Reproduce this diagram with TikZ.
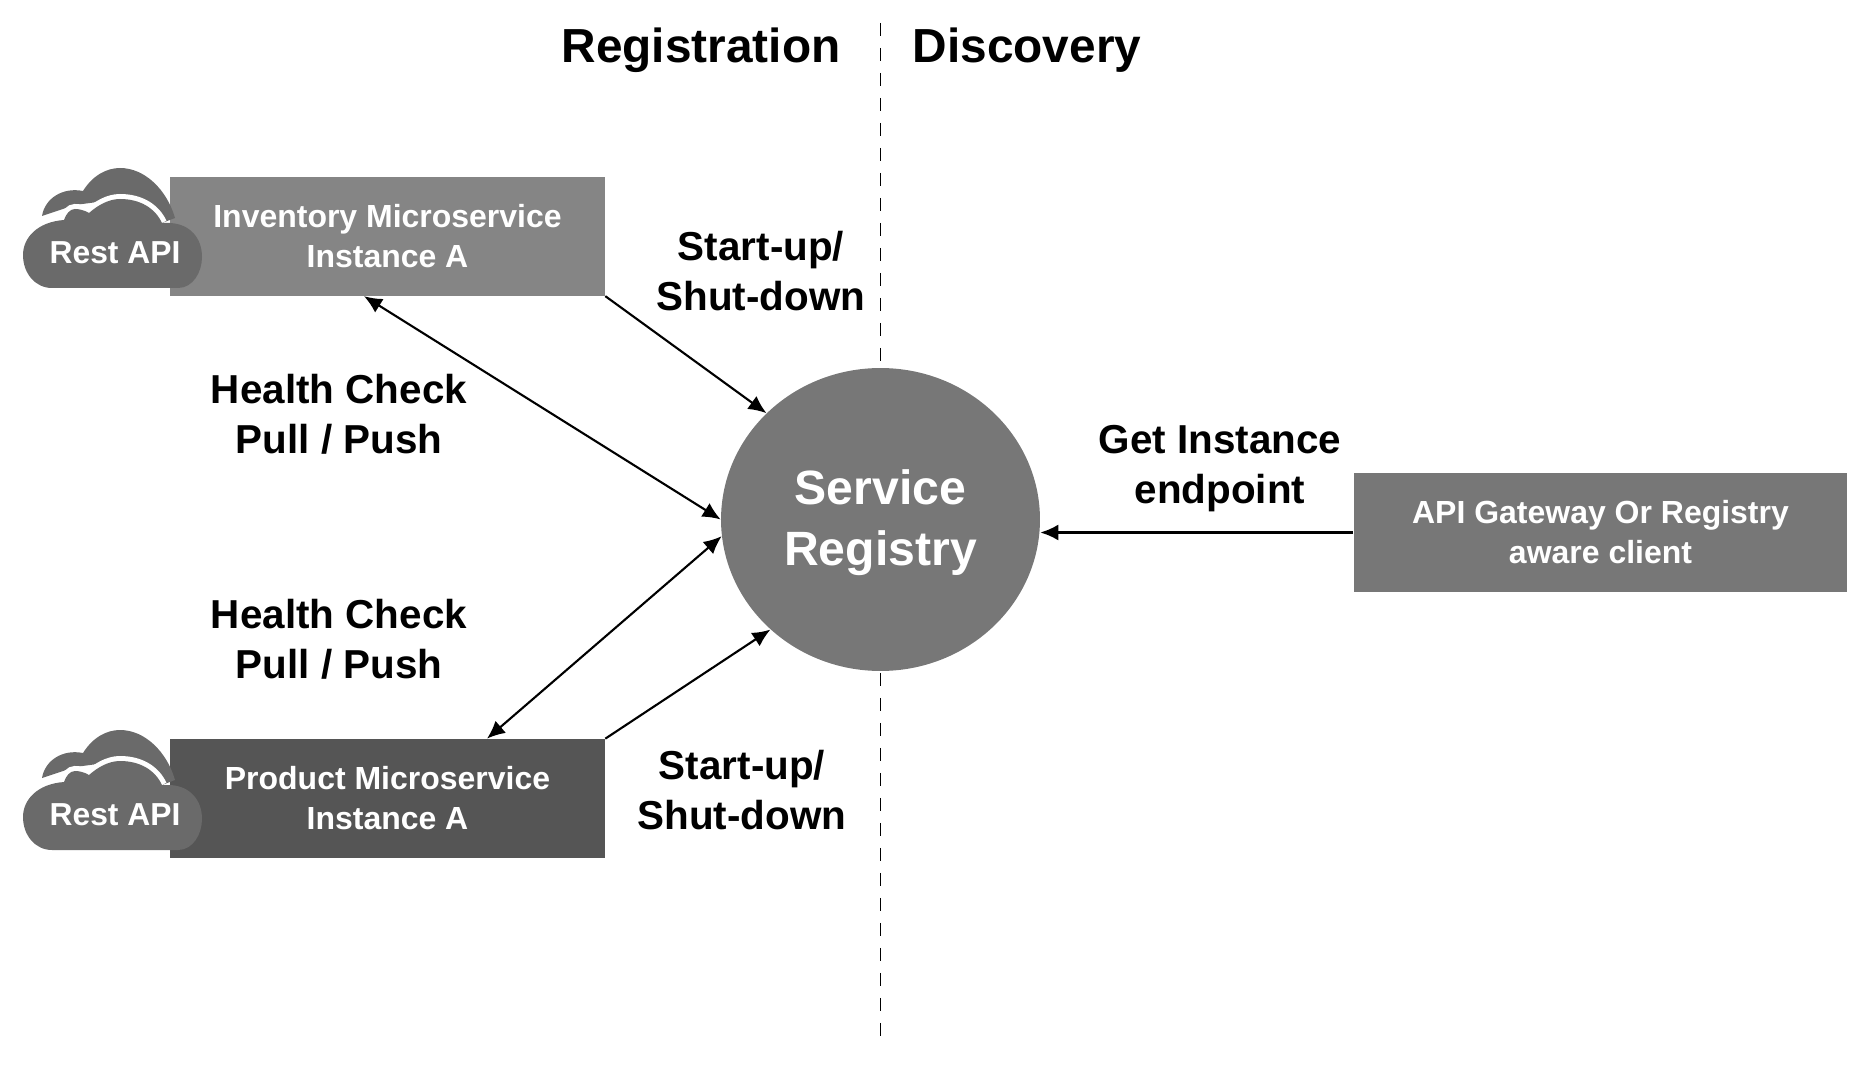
\documentclass[tikz,border=0pt]{standalone}
\usepackage{fontspec}
\setmainfont{Liberation Sans}
\usetikzlibrary{arrows.meta,shapes.geometric}
\definecolor{cloudgray}{HTML}{6A6A6A}
\definecolor{invgray}{HTML}{858585}
\definecolor{prodgray}{HTML}{555555}
\definecolor{reggray}{HTML}{777777}
\tikzset{
	svcbox/.style={rectangle,inner sep=0pt,minimum width=8.7cm,minimum height=2.38cm,align=center,text=white,font=\bfseries\fontsize{18.2}{22.7}\selectfont},
	lbl/.style={align=center,font=\bfseries\fontsize{23}{28.4}\selectfont},
	heading/.style={anchor=base,font=\bfseries\fontsize{27.2}{32}\selectfont},
	link/.style={line width=1.2pt},
	restcloud/.pic={
		\fill[cloudgray] (27,56)..controls (30,38) and (48,27)..(68,31)..controls (78,15) and (92,8)..(105,8)..controls (130,8) and (152,30)..(160,58)--(147,63)--(105,39)--(60,45)--cycle;
		\draw[white,line width=0.2cm] (147,63)..controls (140,48) and (125,39)..(105,39)..controls (93,39) and (82,46)..(74,53)..controls (69,50) and (64,49)..(60,49)..controls (55,49) and (51,54)..(49,60)--(28,65);
		\fill[cloudgray] (37,128)--(163,128)..controls (178,128) and (187,112)..(187,97)..controls (187,78) and (175,64)..(155,63)--(147,63)..controls (140,48) and (125,39)..(105,39)..controls (93,39) and (82,46)..(74,53)..controls (69,50) and (64,49)..(60,49)..controls (55,49) and (51,54)..(49,60)..controls (22,62) and (8,78)..(8,95)..controls (8,113) and (20,128)..(37,128)--cycle;
		\node[text=white,font=\bfseries\fontsize{18.1}{22}\selectfont] (-txt) at (100,93) {Rest API};
	}
}
\begin{document}
\begin{tikzpicture}[x=0.02cm,y=-0.02cm,>={Latex[length=0.36cm,width=0.32cm]}]
	\useasboundingbox (0,0) rectangle (1871,1067);
	\coordinate (top) at (880,23);
	\coordinate (bot) at (880,1037);
	\draw[line width=0.5pt,dash pattern=on 0.26cm off 0.24cm] (top)--(bot);
	\node[svcbox,fill=invgray] (inv) at (387.5,236.3) {Inventory Microservice\\Instance A};
	\node[svcbox,fill=prodgray] (prod) at (387.5,798.5) {Product Microservice\\Instance A};
	\pic (invcloud) at (15,160) {restcloud};
	\pic (prodcloud) at (15,722) {restcloud};
	\node[ellipse,inner sep=0pt,minimum width=6.38cm,minimum height=6.06cm,fill=reggray,text=white,align=center,font=\bfseries\fontsize{27.4}{35}\selectfont] (reg) at (880.5,519.5) {\rule{0pt}{23.5pt}Service\\Registry};
	\node[svcbox,fill=reggray,minimum width=9.88cm,minimum height=2.4cm] (client) at (1600.5,532.5) {API Gateway Or Registry\\aware client};
	\draw[->,link] (inv.south east)--(reg.137);
	\draw[<->,link] ([xshift=-0.47cm]inv.south)--(reg.180);
	\draw[<->,link] ([xshift=1.99cm]prod.north)--(reg.186.5);
	\draw[->,link] (prod.north east)--(reg.225);
	\draw[->,link] (client.west)--(client.west-|reg.east);
	\node[heading] (regt) at (701,63) {Registration};
	\node[heading] (dist) at (1027,63) {Discovery};
	\node[lbl] (su1) at (761,271) {Start-up/\\Shut-down};
	\node[lbl] (hc1) at (339,414) {Health Check\\Pull / Push};
	\node[lbl] (hc2) at (339,639) {Health Check\\Pull / Push};
	\node[lbl] (su2) at (742,790) {Start-up/\\Shut-down};
	\node[lbl] (get) at (1220,469) {Get Instance\\endpoint};
\end{tikzpicture}
\end{document}
